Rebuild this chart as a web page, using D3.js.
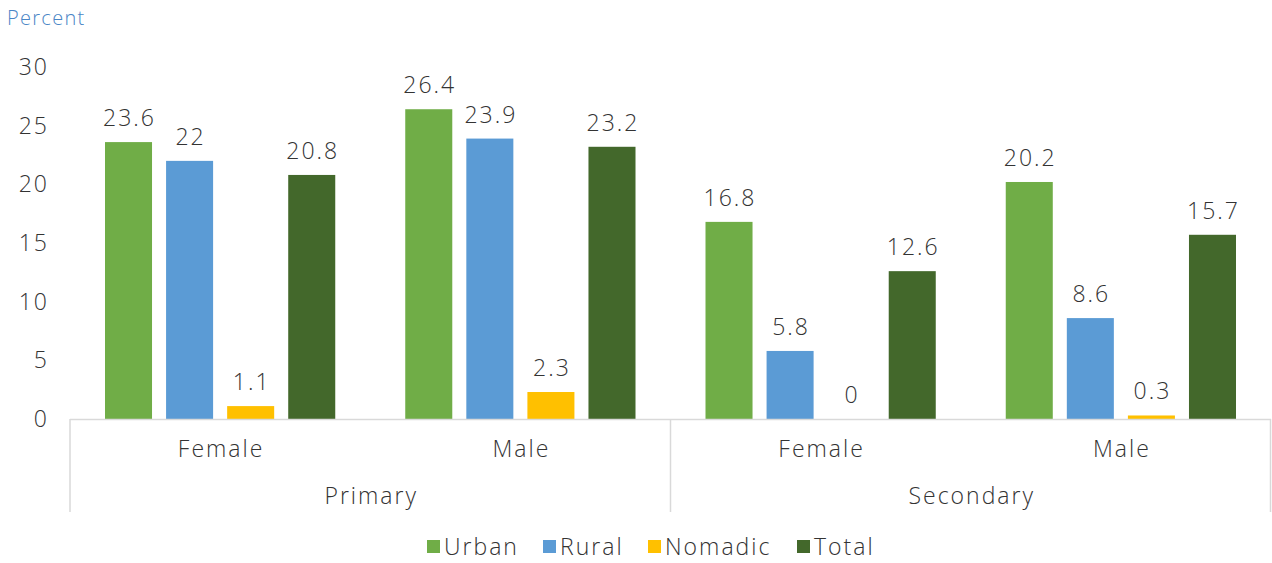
<!DOCTYPE html>
<html>
<head>
<meta charset="utf-8">
<script src="https://cdn.jsdelivr.net/npm/d3@7"></script>
<style>
  body { margin: 0; background: #fff; }
  text { font-family: "Open Sans", "Noto Sans", sans-serif; font-weight: 300; letter-spacing: 2px; }
</style>
</head>
<body>
<div id="chart"></div>
<script>
// data
var levels = ["Primary", "Secondary"];
var genders = ["Female", "Male"];
var seriesNames = ["Urban", "Rural", "Nomadic", "Total"];
var urban = [23.6, 26.4, 16.8, 20.2];
var rural = [22, 23.9, 5.8, 8.6];
var nomadic = [1.1, 2.3, 0, 0.3];
var total = [20.8, 23.2, 12.6, 15.7];
var yTicks = [0, 5, 10, 15, 20, 25, 30];
var colors = ["#70ad47", "#5b9bd5", "#ffc000", "#43682b"];

var svgWidth = 1272, svgHeight = 563;
var margin = { top: 67, left: 70, right: 1, bottom: 144 };
var width = svgWidth - margin.left - margin.right;
var height = svgHeight - margin.top - margin.bottom;
var fs = 23;
var textColor = "#333333";

var svg = d3.select("#chart").append("svg")
    .attr("width", svgWidth)
    .attr("height", svgHeight);

var chartGroup = svg.append("g")
    .attr("transform", `translate(${margin.left}, ${margin.top})`);

// one row per leaf category
var cats = [];
levels.forEach(function(l) {
  genders.forEach(function(g) { cats.push(l + "|" + g); });
});
var allSeries = [urban, rural, nomadic, total];

var x0 = d3.scaleBand().domain(cats).range([0, width]).paddingInner(0).paddingOuter(0);
var x1 = d3.scaleBand().domain(seriesNames).range([35, x0.bandwidth() - 35]).paddingInner(0.23);
var y = d3.scaleLinear().domain([0, 30]).range([height, 0]);

// y tick labels
chartGroup.selectAll(".ytick")
  .data(yTicks)
  .enter().append("text")
  .attr("x", -21)
  .attr("y", d => y(d))
  .attr("dy", "0.35em")
  .attr("text-anchor", "end")
  .attr("font-size", fs)
  .attr("fill", textColor)
  .text(d => d);

svg.append("text")
  .attr("x", 7).attr("y", 25)
  .attr("font-size", 20)
  .style("letter-spacing", "1.3px")
  .attr("fill", "#4a86c6")
  .text("Percent");

// bars
var rows = cats.map(function(c, i) {
  return { cat: c, vals: seriesNames.map((s, j) => ({ s: s, v: allSeries[j][i], c: colors[j] })) };
});

var groups = chartGroup.selectAll(".cat")
  .data(rows)
  .enter().append("g")
  .attr("transform", d => `translate(${x0(d.cat)},0)`);

groups.selectAll("rect")
  .data(d => d.vals)
  .enter().append("rect")
  .attr("x", d => x1(d.s))
  .attr("width", x1.bandwidth())
  .attr("y", d => y(d.v))
  .attr("height", d => y(0) - y(d.v))
  .attr("fill", d => d.c);

groups.selectAll(".lbl")
  .data(d => d.vals)
  .enter().append("text")
  .attr("x", d => x1(d.s) + x1.bandwidth() / 2 + 1)
  .attr("y", d => y(d.v) - 16)
  .attr("text-anchor", "middle")
  .attr("font-size", fs)
  .attr("fill", textColor)
  .text(d => d.v);

// axis line and dividers
chartGroup.append("line")
  .attr("x1", 0).attr("x2", width)
  .attr("y1", y(0) + 0.5).attr("y2", y(0) + 0.5)
  .attr("stroke", "#d9d9d9").attr("stroke-width", 1.5);

var xLevel = d3.scaleBand().domain(levels).range([0, width]);
var divs = [0, xLevel("Secondary"), width];
chartGroup.selectAll(".div")
  .data(divs)
  .enter().append("line")
  .attr("x1", d => Math.min(d, width - 0.5)).attr("x2", d => Math.min(d, width - 0.5))
  .attr("y1", y(0)).attr("y2", y(0) + 93)
  .attr("stroke", "#d9d9d9").attr("stroke-width", 1.5);

// category labels
chartGroup.selectAll(".glbl")
  .data(cats)
  .enter().append("text")
  .attr("x", d => x0(d) + x0.bandwidth() / 2 + 1)
  .attr("y", y(0) + 38)
  .attr("text-anchor", "middle")
  .attr("font-size", fs)
  .attr("fill", textColor)
  .text(d => d.split("|")[1]);

chartGroup.selectAll(".llbl")
  .data(levels)
  .enter().append("text")
  .attr("x", d => xLevel(d) + xLevel.bandwidth() / 2 + 1)
  .attr("y", y(0) + 85)
  .attr("text-anchor", "middle")
  .attr("font-size", fs)
  .attr("fill", textColor)
  .text(d => d);

// legend
var legendX = [427, 543, 648, 797];
var legend = svg.selectAll(".leg")
  .data(seriesNames)
  .enter().append("g")
  .attr("transform", (d, i) => `translate(${legendX[i]}, 540)`);

legend.append("rect")
  .attr("width", 13).attr("height", 13)
  .attr("fill", (d, i) => colors[i]);

legend.append("text")
  .attr("x", 17).attr("y", 7)
  .attr("dy", "0.35em")
  .attr("font-size", fs)
  .attr("fill", textColor)
  .text(d => d);
</script>
</body>
</html>
